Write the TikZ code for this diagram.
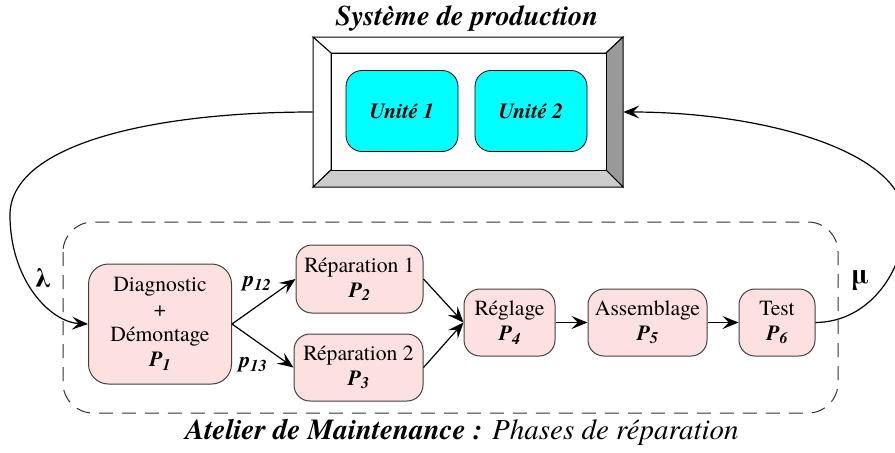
\documentclass[tikz,border=0pt]{standalone}
\usepackage{fontspec}
\setmainfont{texgyretermes}[Extension=.otf, UprightFont=*-regular, BoldFont=*-bold, ItalicFont=*-italic, BoldItalicFont=*-bolditalic]
\usetikzlibrary{arrows.meta}
\definecolor{pinkc}{HTML}{FDE0E0}
\definecolor{cyanc}{HTML}{00FFFF}
\definecolor{bevdark}{HTML}{999999}
\definecolor{bevlight}{HTML}{CCCCCC}
\makeatletter
\newcommand{\mysub}[1]{\raisebox{-0.35ex}{\fontsize{0.75\dimexpr\f@size pt\relax}{1em}\selectfont #1}}
\makeatother
\newcommand{\PP}[1]{{\bfseries\itshape P\mysub{#1}}}
\newcommand{\pp}[1]{{\bfseries\itshape p\mysub{#1}}}
\begin{document}
\begin{tikzpicture}[x=0.5pt,y=0.5pt,
  arr/.style={-{Stealth[length=8pt,width=6.5pt,inset=3.2pt]}, line width=0.6pt},
  proc/.style={draw=black!75, fill=pinkc, rounded corners=8pt, inner sep=0pt, align=center,
    font=\fontsize{10.8}{12.5}\selectfont, line width=0.5pt},
  unit/.style={draw=black, fill=cyanc, rounded corners=8pt, inner sep=0pt,
    minimum width=56pt, minimum height=40.5pt, font=\fontsize{10.8}{12}\selectfont\bfseries\itshape},
  lbl/.style={inner sep=0pt, font=\fontsize{11}{12}\selectfont},
  dashbox/.style={draw=black!80, line width=0.5pt, dash pattern=on 7pt off 4.5pt, rounded corners=15pt}
]
\useasboundingbox (0,0) rectangle (895,-452);

% title
\node[inner sep=0pt, font=\fontsize{14.2}{16}\selectfont\bfseries\itshape] (title) at (467,-18) {Système de production};

% bevelled frame
\coordinate (fo1) at (313,-37); \coordinate (fo2) at (623,-37);
\coordinate (fo3) at (623,-187); \coordinate (fo4) at (313,-187);
\coordinate (fi1) at (331,-53); \coordinate (fi2) at (606,-53);
\coordinate (fi3) at (606,-170); \coordinate (fi4) at (331,-170);
\filldraw[fill=white, line width=0.5pt] (fo1) -- (fo2) -- (fi2) -- (fi1) -- cycle;
\filldraw[fill=white, line width=0.5pt] (fo1) -- (fi1) -- (fi4) -- (fo4) -- cycle;
\filldraw[fill=bevdark, line width=0.5pt] (fo2) -- (fo3) -- (fi3) -- (fi2) -- cycle;
\filldraw[fill=bevlight, line width=0.5pt] (fo4) -- (fi4) -- (fi3) -- (fo3) -- cycle;
\filldraw[fill=white, line width=0.5pt] (fi1) rectangle (fi3);
\node[minimum width=155pt, minimum height=75pt, inner sep=0pt] (frame) at (468,-112) {};

\node[unit] (u1) at (402,-111) {Unité 1};
\node[unit] (u2) at (531,-111) {Unité 2};

% dashed workshop box
\draw[dashbox] (63,-222) rectangle (838,-413);

% process nodes
\node[proc, minimum width=71.5pt, minimum height=60pt, rounded corners=10pt] (P1) at (160,-324)
  {Diagnostic\\+\\Démontage\\\PP{1}};
\node[proc, minimum width=63.5pt, minimum height=34pt] (P2) at (359.5,-279) {Réparation 1\\\PP{2}};
\node[proc, minimum width=64.5pt, minimum height=33.5pt] (P3) at (358.5,-367.5) {Réparation 2\\\PP{3}};
\node[proc, minimum width=45.5pt, minimum height=33.5pt] (P4) at (509.5,-322.5) {Réglage\\\PP{4}};
\node[proc, minimum width=59.5pt, minimum height=33.5pt] (P5) at (647.5,-322.5) {Assemblage\\\PP{5}};
\node[proc, minimum width=38pt, minimum height=33.5pt] (P6) at (777,-322.5) {Test\\\PP{6}};

% internal arrows
\draw[arr] (P1.east) -- (P2.west);
\draw[arr] (P1.east) -- (P3.west);
\draw[arr] (P2.east) -- (P4.west);
\draw[arr] (P3.east) -- (P4.west);
\draw[arr] (P4.east) -- (P5.west);
\draw[arr] (P5.east) -- (P6.west);

\node[lbl] (p12) at (257,-284) {\pp{12}};
\node[lbl] (p13) at (253,-365) {\pp{13}};

% loop connectors
\draw[arr] (frame.west) .. controls (150,-112) and (10,-145) .. (10,-215)
  .. controls (10,-280) and (50,-322) .. (P1.west);
\draw[arr] (P6.east) .. controls (870,-322) and (905,-270) .. (905,-220)
  .. controls (905,-150) and (760,-112) .. (frame.east);

\node[lbl, font=\fontsize{14}{15}\selectfont\bfseries] (lam) at (43,-278) {λ};
\node[lbl, font=\fontsize{14}{15}\selectfont\bfseries] (mu) at (860,-281) {μ};

% caption
\node[inner sep=0pt, font=\fontsize{14.5}{16}\selectfont] (cap) at (462,-432)
  {{\bfseries\itshape Atelier de Maintenance :} {\itshape Phases de réparation}};
\end{tikzpicture}
\end{document}
